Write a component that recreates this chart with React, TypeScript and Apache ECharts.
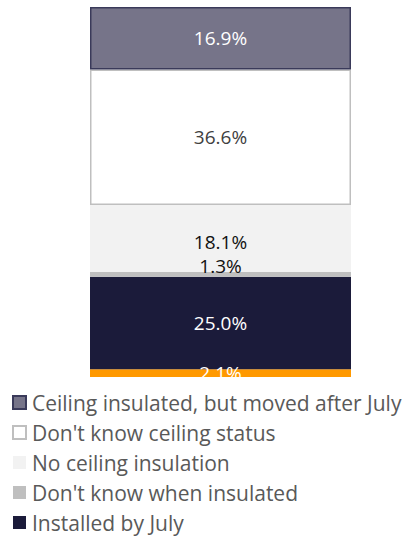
import React, { useEffect, useRef } from "react";
import * as echarts from "echarts";

const categories = ["Status"];
const seriesNames = [
  "Other",
  "Installed by July",
  "Don't know when insulated",
  "No ceiling insulation",
  "Don't know ceiling status",
  "Ceiling insulated, but moved after July",
];
const seriesValues = [2.1, 25.0, 1.3, 18.1, 36.6, 16.9];
const legendOrder = [
  "Ceiling insulated, but moved after July",
  "Don't know ceiling status",
  "No ceiling insulation",
  "Don't know when insulated",
  "Installed by July",
];

const fills = ["#ff9900", "#1b1b3a", "#bfbfbf", "#f2f2f2", "#ffffff", "#767489"];
const borders = ["#ff9900", "#1b1b3a", "#bfbfbf", "#f2f2f2", "#bfbfbf", "#3a3a5a"];
const borderWidths = [0, 0, 0, 0, 1.5, 1.5];
const labelColors = ["#ffffff", "#ffffff", "#111111", "#111111", "#404040", "#ffffff"];
const labelOffsets = [[0, 0], [0, 0], [0, -8], [0, 4], [0, 0], [0, 0]];

export default function App() {
  const ref = useRef<HTMLDivElement>(null);
  useEffect(() => {
    if (!ref.current) return;
    const chart = echarts.init(ref.current, undefined, { renderer: "svg" });
    chart.setOption({
      animation: false,
      textStyle: { fontFamily: "Open Sans" },
      grid: { left: 90, right: 55, top: 7, bottom: 159 },
      xAxis: {
        type: "category",
        data: categories,
        show: false,
      },
      yAxis: { type: "value", min: 0, max: 100, show: false },
      legend: {
        data: legendOrder,
        orient: "vertical",
        left: 12,
        top: 392,
        height: 150,
        padding: 0,
        icon: "rect",
        itemWidth: 13,
        itemHeight: 13,
        itemGap: 9,
        textStyle: { fontSize: 21, color: "#595959", fontFamily: "Open Sans", padding: [0, 0, 0, 1] },
      },
      series: seriesNames.map((name, i) => ({
        name,
        type: "bar",
        stack: "total",
        barWidth: "100%",
        data: [seriesValues[i]],
        itemStyle: {
          color: fills[i],
          borderColor: borders[i],
          borderWidth: borderWidths[i],
        },
        label: {
          show: true,
          position: "inside",
          formatter: (p: any) => p.value.toFixed(1) + "%",
          color: labelColors[i],
          fontSize: 19,
          lineHeight: 19,
          fontFamily: "Open Sans",
          offset: labelOffsets[i],
        },
      })),
    });
    return () => chart.dispose();
  }, []);
  return <div ref={ref} style={{ width: 406, height: 536, position: "absolute", left: 0, top: 0 }} />;
}
